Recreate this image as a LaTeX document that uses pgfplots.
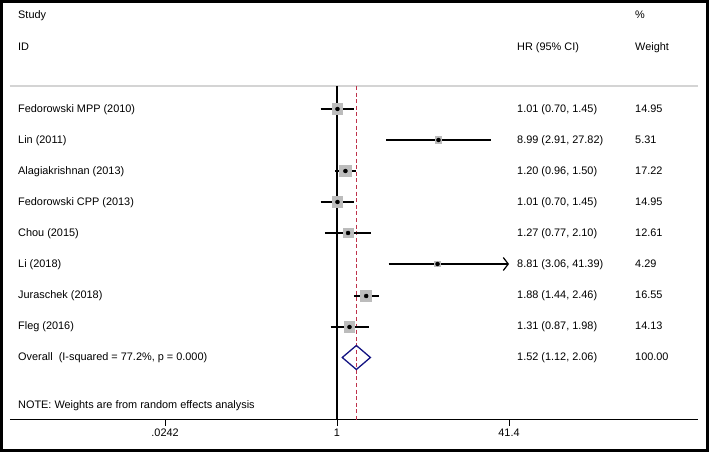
\documentclass[border=0pt]{standalone}
\usepackage{fontspec}
\setmainfont{Liberation Sans}
\usepackage{pgfplots}
\pgfplotsset{compat=1.18}
\usepackage{pgfplotstable}
\usetikzlibrary{arrows.meta}

\definecolor{sqgray}{RGB}{188,188,188}
\definecolor{hgray}{RGB}{212,212,212}
\definecolor{refred}{RGB}{190,50,75}
\definecolor{navy}{RGB}{20,20,130}

\pgfplotstableread{
hr lo hi w y
1.01 0.70 1.45 14.95 -109
8.99 2.91 27.82 5.31 -140
1.20 0.96 1.50 17.22 -171
1.01 0.70 1.45 14.95 -202
1.27 0.77 2.10 12.61 -233
8.81 3.06 41.39 4.29 -264
1.88 1.44 2.46 16.55 -296
1.31 0.87 1.98 14.13 -327
}\studies

\newcommand{\fs}{\fontsize{10.9}{13}\selectfont}

\begin{document}
\begin{tikzpicture}
\begin{axis}[
  at={(10pt,32pt)}, anchor=south west,
  scale only axis, width=688pt, height=416pt,
  xmode=log, xmin=0.000843, xmax=2474,
  ymin=-420, ymax=-4,
  axis x line=bottom, axis y line=none,
  axis line style={-, black, line width=1pt},
  xtick={0.0242,1,41.4}, xticklabels={.0242,1,41.4},
  ytick=\empty,
  tick align=outside, major tick length=6pt,
  xtick style={black, line width=0.9pt},
  tick label style={font=\fs},
  /pgf/number format/assume math mode=true,
  xticklabel style={yshift=1pt},
  clip=false,
]
% header line
\draw[hgray, line width=1.5pt] (axis cs:0.000843,-86) -- (axis cs:2474,-86);
% null line and overall line
\addplot[black, line width=1.1pt] coordinates {(1,-86) (1,-420)};
\addplot[refred, line width=1pt, dash pattern=on 4pt off 2.6pt] coordinates {(1.52,-86) (1.52,-420)};
% weight squares
\addplot[only marks, mark=square*, color=sqgray, scatter,
  scatter/use mapped color={draw=sqgray, fill=sqgray},
  mark options={draw=sqgray, fill=sqgray, line width=0pt},
  visualization depends on={1.4*sqrt(\thisrow{w}) \as \msz},
  scatter/@pre marker code/.append style={/tikz/mark size=\msz pt}]
  table[x=hr, y=y] {\studies};
% confidence intervals
\addplot[black, line width=1.2pt] coordinates {(0.70,-109) (1.45,-109)};
\addplot[black, line width=1.2pt] coordinates {(2.91,-140) (27.82,-140)};
\addplot[black, line width=1.2pt] coordinates {(0.96,-171) (1.50,-171)};
\addplot[black, line width=1.2pt] coordinates {(0.70,-202) (1.45,-202)};
\addplot[black, line width=1.2pt] coordinates {(0.77,-233) (2.10,-233)};
\addplot[black, line width=1.2pt, -{Straight Barb[length=5pt,width=13pt,line width=1.2pt]}] coordinates {(3.06,-264) (41.39,-264)};
\addplot[black, line width=1.2pt] coordinates {(1.44,-296) (2.46,-296)};
\addplot[black, line width=1.2pt] coordinates {(0.87,-327) (1.98,-327)};
% point estimates
\addplot[only marks, mark=*, mark size=2pt, black, mark options={fill=black, draw=black}] table[x=hr, y=y] {\studies};
% overall diamond
\addplot[navy, line width=1.3pt, line join=miter] coordinates {(1.12,-357.5) (1.52,-345.5) (2.06,-357.5) (1.52,-369.5)} -- cycle;
\end{axis}

% text
\begin{scope}[every node/.style={font=\fs, anchor=base west, inner sep=0pt}]
\node at (18pt,{452pt-19pt}) {Study};
\node at (18pt,{452pt-51pt}) {ID};
\node at (635pt,{452pt-19pt}) {\%};
\node at (517pt,{452pt-51pt}) {HR (95\% CI)};
\node at (635pt,{452pt-51pt}) {Weight};
\foreach \name/\hr/\w [count=\i from 0] in {
  Fedorowski MPP (2010)/{1.01 (0.70, 1.45)}/14.95,
  Lin (2011)/{8.99 (2.91, 27.82)}/5.31,
  Alagiakrishnan (2013)/{1.20 (0.96, 1.50)}/17.22,
  Fedorowski CPP (2013)/{1.01 (0.70, 1.45)}/14.95,
  Chou (2015)/{1.27 (0.77, 2.10)}/12.61,
  Li (2018)/{8.81 (3.06, 41.39)}/4.29,
  Juraschek (2018)/{1.88 (1.44, 2.46)}/16.55,
  Fleg (2016)/{1.31 (0.87, 1.98)}/14.13}{
  \node at (18pt,{452pt-(113pt+31pt*\i)}) {\name};
  \node at (517pt,{452pt-(113pt+31pt*\i)}) {\hr};
  \node at (635pt,{452pt-(113pt+31pt*\i)}) {\w};
}
\node at (18pt,{452pt-361pt}) {Overall\ \ (I-squared = 77.2\%, p = 0.000)};
\node at (517pt,{452pt-361pt}) {1.52 (1.12, 2.06)};
\node at (635pt,{452pt-361pt}) {100.00};
\node at (18pt,{452pt-409pt}) {NOTE: Weights are from random effects analysis};
\end{scope}

\pgfresetboundingbox
\draw[black, line width=3pt] (1.5pt,1.5pt) rectangle (707.5pt,450.5pt);
\useasboundingbox (0,0) rectangle (709pt,452pt);
\end{tikzpicture}
\end{document}
